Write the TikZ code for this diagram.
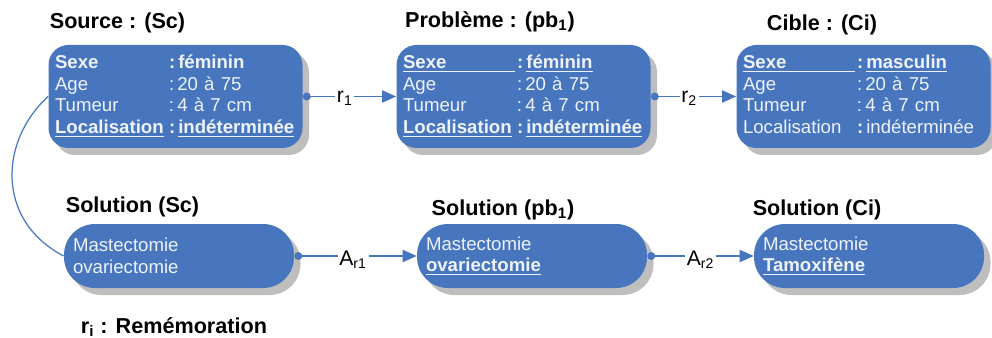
\documentclass[tikz,border=0pt]{standalone}
\usepackage{fontspec}
\setmainfont{Liberation Sans}
\usetikzlibrary{shadows,arrows.meta}
\definecolor{bleu}{RGB}{71,118,190}
\definecolor{blanc}{RGB}{238,242,250}
\definecolor{ombre}{RGB}{190,190,190}
\newcommand{\sou}[1]{\underline{#1}}

\begin{document}
\begin{tikzpicture}[
    box/.style={fill=bleu, rounded corners=0.4cm, text=blanc, minimum height=2.06cm,
        text width=4.82cm, inner xsep=0.13cm, align=left,
        font=\fontsize{10.6}{12.3}\selectfont,
        drop shadow={shadow xshift=0.13cm, shadow yshift=-0.14cm, fill=ombre, opacity=1}},
    solbox/.style={box, rounded corners=0.62cm, minimum height=1.28cm, text width=4.24cm, inner xsep=0.18cm},
    titre/.style={font=\fontsize{12.3}{14}\selectfont\bfseries},
    lien/.style={draw=bleu, line width=0.7pt, {Circle[length=4.5pt]}-{Triangle[length=8pt,width=7pt]}},
    etiq/.style={fill=white, inner sep=1pt, font=\fontsize{12}{14}\selectfont}
]
    \useasboundingbox (0,0) rectangle (19.84,-6.76);

    % cas source, probleme, cible
    \node[box] (src) at (3.51,-1.93) {\begin{tabular}{@{}p{2.28cm}@{}l@{}}
        \textbf{Sexe} & \textbf{:\,féminin}\\
        Age & :\,20 à 75\\
        Tumeur & :\,4 à 7 cm\\
        \textbf{\sou{Localisation}} & \textbf{:\,\sou{indéterminée}}
    \end{tabular}};
    \node[box] (pb) at (10.47,-1.93) {\begin{tabular}{@{}p{2.28cm}@{}l@{}}
        \textbf{\sou{\makebox[2.24cm][l]{Sexe}}} & \textbf{:\,\sou{féminin}}\\
        Age & :\,20 à 75\\
        Tumeur & :\,4 à 7 cm\\
        \textbf{\sou{Localisation}} & \textbf{:\,\sou{indéterminée}}
    \end{tabular}};
    \node[box] (ci) at (17.27,-1.93) {\begin{tabular}{@{}p{2.28cm}@{}l@{}}
        \textbf{\sou{\makebox[2.24cm][l]{Sexe}}} & \textbf{:\,\sou{masculin}}\\
        Age & :\,20 à 75\\
        Tumeur & :\,4 à 7 cm\\
        Localisation & \textbf{:}\,indéterminée
    \end{tabular}};
    \node[titre] (tsrc) at (2.35,-0.46) {Source : (Sc)};
    \node[titre] (tpb) at (9.8,-0.44) {Problème : (pb\textsubscript{1})};
    \node[titre] (tci) at (16.44,-0.5) {Cible : (Ci)};

    % solutions
    \node[solbox] (solsc) at (3.58,-5.12) {Mastectomie\\ovariectomie};
    \node[solbox] (solpb) at (10.64,-5.12) {Mastectomie\\\textbf{\sou{ovariectomie}}};
    \node[solbox] (solci) at (17.38,-5.12) {Mastectomie\\\textbf{\sou{Tamoxifène}}};
    \node[titre] (tsolsc) at (2.65,-4.14) {Solution (Sc)};
    \node[titre] (tsolpb) at (10.06,-4.2) {Solution (pb\textsubscript{1})};
    \node[titre] (tsolci) at (16.34,-4.2) {Solution (Ci)};

    \draw[lien] (src) -- (pb) node[etiq, pos=0.45, yshift=-1pt] {r\textsubscript{1}};
    \draw[lien] (pb) -- (ci) node[etiq, pos=0.45, yshift=-1pt] {r\textsubscript{2}};
    \draw[lien] (solsc) -- (solpb) node[etiq, pos=0.48, yshift=-2pt] {A\textsubscript{r1}};
    \draw[lien] (solpb) -- (solci) node[etiq, pos=0.5, yshift=-2pt] {A\textsubscript{r2}};
    \draw[bleu, line width=0.7pt] (src.west) .. controls (0.0,-2.8) and (-0.1,-4.4) .. (solsc.west);

    \node[titre] (legende) at (3.48,-6.54) {r\textsubscript{i} : Remémoration};
\end{tikzpicture}
\end{document}
